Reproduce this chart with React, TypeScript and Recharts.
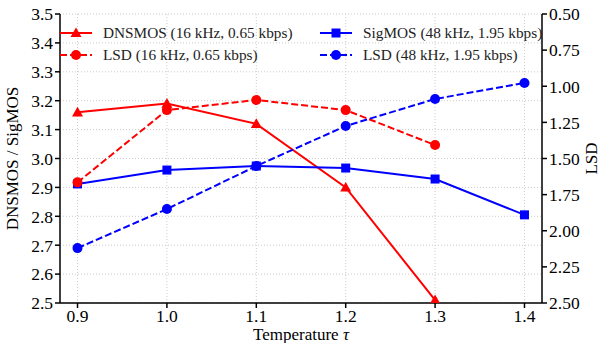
import React from 'react';
import { LineChart, Line, XAxis, YAxis, CartesianGrid } from 'recharts';

const temperatures = [0.9, 1.0, 1.1, 1.2, 1.3, 1.4];
const dnsmos16k = [3.16, 3.19, 3.12, 2.90, 2.51, null];
const sigmos48k = [2.912, 2.96, 2.974, 2.967, 2.929, 2.805];
const lsd16k = [1.665, 1.165, 1.095, 1.165, 1.407, null];
const lsd48k = [2.12, 1.85, 1.552, 1.275, 1.088, 0.977];

const xTicks = [0.9, 1.0, 1.1, 1.2, 1.3, 1.4];
const leftTicks = [2.5, 2.6, 2.7, 2.8, 2.9, 3.0, 3.1, 3.2, 3.3, 3.4, 3.5];
const rightTicks = [0.5, 0.75, 1.0, 1.25, 1.5, 1.75, 2.0, 2.25, 2.5];

const RED = '#ff0000';
const BLUE = '#0000ff';
const FONT = '"Liberation Serif", "DejaVu Serif", serif';

const data = temperatures.map((t, i) => ({
  t,
  dnsmos: dnsmos16k[i],
  sigmos: sigmos48k[i],
  lsd16: lsd16k[i],
  lsd48: lsd48k[i],
}));

const triangle = (color: string) => (props: any) => {
  const { cx, cy, index } = props;
  if (cx == null || cy == null || props.value == null) return <g key={`t${index}`} />;
  const r = 5.5;
  return (
    <polygon
      key={`t${index}`}
      points={`${cx},${cy - r} ${cx - r},${cy + r * 0.75} ${cx + r},${cy + r * 0.75}`}
      fill={color}
    />
  );
};

const square = (color: string) => (props: any) => {
  const { cx, cy, index } = props;
  if (cx == null || cy == null || props.value == null) return <g key={`s${index}`} />;
  return <rect key={`s${index}`} x={cx - 4.5} y={cy - 4.5} width={9} height={9} fill={color} />;
};

const circle = (color: string) => (props: any) => {
  const { cx, cy, index } = props;
  if (cx == null || cy == null || props.value == null) return <g key={`c${index}`} />;
  return <circle key={`c${index}`} cx={cx} cy={cy} r={5} fill={color} />;
};

// serif tick labels drawn by hand so the font sticks
const makeTick = (digits: number, vertical: boolean) => (props: any) => {
  const { x, y, textAnchor, payload } = props;
  return (
    <text
      x={x}
      y={y}
      dy={vertical ? '0.36em' : '0.71em'}
      textAnchor={textAnchor}
      fill="#000"
      fontSize={17.5}
      fontFamily={FONT}
    >
      {Number(payload.value).toFixed(digits)}
    </text>
  );
};

const legendItems = [
  { label: 'DNSMOS (16 kHz, 0.65 kbps)', color: RED, dash: false, marker: 'tri' },
  { label: 'SigMOS (48 kHz, 1.95 kbps)', color: BLUE, dash: false, marker: 'sq' },
  { label: 'LSD (16 kHz, 0.65 kbps)', color: RED, dash: true, marker: 'dot' },
  { label: 'LSD (48 kHz, 1.95 kbps)', color: BLUE, dash: true, marker: 'dot' },
];

function LegendBox() {
  return (
    <div
      style={{
        position: 'absolute',
        left: 60,
        top: 22,
        display: 'grid',
        gridTemplateColumns: '260px 240px',
        rowGap: 1,
        fontFamily: FONT,
        fontSize: 15.3,
        color: '#222',
        pointerEvents: 'none',
      }}
    >
      {legendItems.map((it) => (
        <div key={it.label} style={{ display: 'flex', alignItems: 'center', height: 21 }}>
          <svg width={32} height={14} style={{ marginRight: 11 }}>
            <line
              x1={0}
              y1={7}
              x2={32}
              y2={7}
              stroke={it.color}
              strokeWidth={2}
              strokeDasharray={it.dash ? '7 3' : undefined}
            />
            {it.marker === 'tri' && <polygon points="16,1.5 10.5,11 21.5,11" fill={it.color} />}
            {it.marker === 'sq' && <rect x={11.5} y={2.5} width={9} height={9} fill={it.color} />}
            {it.marker === 'dot' && <circle cx={16} cy={7} r={5} fill={it.color} />}
          </svg>
          <span>{it.label}</span>
        </div>
      ))}
    </div>
  );
}

export default function App() {
  return (
    <div
      style={{
        position: 'fixed',
        left: 0,
        top: 0,
        width: 599,
        height: 343,
        background: '#fff',
        fontFamily: FONT,
      }}
    >
      <LineChart
        width={599}
        height={343}
        data={data}
        margin={{ top: 14, right: 0, left: 0, bottom: 0 }}
        style={{ fontFamily: FONT }}
      >
        <CartesianGrid
          yAxisId="left"
          stroke="#cccccc"
          strokeDasharray="1 2"
          verticalValues={xTicks}
          horizontalValues={leftTicks}
        />
        <XAxis
          dataKey="t"
          type="number"
          domain={[0.8804, 1.4196]}
          ticks={xTicks}
          allowDataOverflow
          height={40}
          stroke="#000"
          strokeWidth={1.5}
          tickSize={5}
          tickMargin={2}
          tick={makeTick(1, false)}
          label={(p: any) => {
            const vb = p.viewBox;
            return (
              <text
                x={vb.x + vb.width / 2}
                y={340}
                textAnchor="middle"
                fill="#000"
                fontSize={17}
                fontFamily={FONT}
              >
                Temperature <tspan fontStyle="italic">τ</tspan>
              </text>
            );
          }}
        />
        <YAxis
          yAxisId="left"
          domain={[2.5, 3.5]}
          ticks={leftTicks}
          allowDataOverflow
          width={60}
          stroke="#000"
          strokeWidth={1.5}
          tickSize={5}
          tickMargin={2}
          tick={makeTick(1, true)}
          label={(p: any) => {
            const vb = p.viewBox;
            const cy = vb.y + vb.height / 2;
            return (
              <text
                x={12}
                y={cy}
                transform={`rotate(-90, 12, ${cy})`}
                textAnchor="middle"
                dominantBaseline="central"
                fill="#000"
                fontSize={17}
                fontFamily={FONT}
              >
                DNSMOS / SigMOS
              </text>
            );
          }}
        />
        <YAxis
          yAxisId="right"
          orientation="right"
          reversed
          domain={[0.5, 2.5]}
          ticks={rightTicks}
          allowDataOverflow
          width={57}
          stroke="#000"
          strokeWidth={1.5}
          tickSize={5}
          tickMargin={2}
          tick={makeTick(2, true)}
          label={(p: any) => {
            const vb = p.viewBox;
            const cy = vb.y + vb.height / 2;
            return (
              <text
                x={591}
                y={cy}
                transform={`rotate(-90, 591, ${cy})`}
                textAnchor="middle"
                dominantBaseline="central"
                fill="#000"
                fontSize={17}
                fontFamily={FONT}
              >
                LSD
              </text>
            );
          }}
        />
        <Line
          yAxisId="left"
          dataKey="dnsmos"
          stroke={RED}
          strokeWidth={2}
          dot={triangle(RED)}
          activeDot={false}
          isAnimationActive={false}
        />
        <Line
          yAxisId="left"
          dataKey="sigmos"
          stroke={BLUE}
          strokeWidth={2}
          dot={square(BLUE)}
          activeDot={false}
          isAnimationActive={false}
        />
        <Line
          yAxisId="right"
          dataKey="lsd16"
          stroke={RED}
          strokeWidth={2}
          strokeDasharray="7 3"
          dot={circle(RED)}
          activeDot={false}
          isAnimationActive={false}
        />
        <Line
          yAxisId="right"
          dataKey="lsd48"
          stroke={BLUE}
          strokeWidth={2}
          strokeDasharray="7 3"
          dot={circle(BLUE)}
          activeDot={false}
          isAnimationActive={false}
        />
      </LineChart>
      <LegendBox />
    </div>
  );
}
